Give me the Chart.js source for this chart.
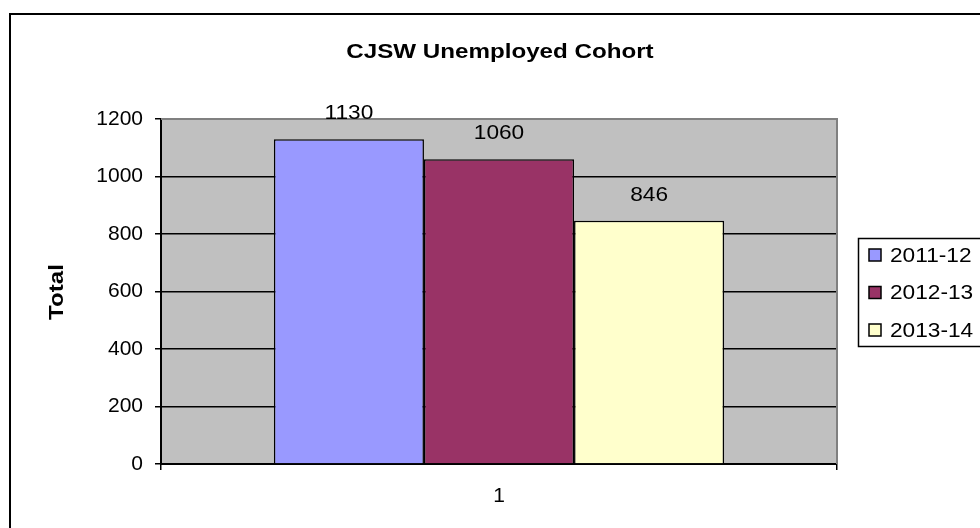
<!DOCTYPE html>
<html>
<head>
<meta charset="utf-8">
<script src="https://cdn.jsdelivr.net/npm/chart.js@4"></script>
<style>
    html, body { margin: 0; padding: 0; background: #fff; }
    #wrap { width: 980px; height: 528px; }
</style>
</head>
<body>
<div id="wrap"><canvas id="cohortChart" width="980" height="528"></canvas></div>
<script>
// chart data
const categories = ["1"];
const seriesNames = ["2011-12", "2012-13", "2013-14"];
const seriesValues = [[1130], [1060], [846]];
const seriesColours = ["#9999FF", "#993366", "#FFFFCC"];
const yTicks = [0, 200, 400, 600, 800, 1000, 1200];

const FONT = "'Liberation Sans', Arial, sans-serif";

// draw text a bit wider, like the original
function wideText(ctx, txt, x, y, sx) {
    ctx.save();
    ctx.translate(x, y);
    ctx.scale(sx, 1);
    ctx.fillText(txt, 0, 0);
    ctx.restore();
}

// frame, title, y title, legend and value labels
const decorPlugin = {
    id: "decor",
    beforeDraw(chart) {
        const ctx = chart.ctx;
        const a = chart.chartArea;
        ctx.save();
        ctx.fillStyle = "#fff";
        ctx.fillRect(0, 0, chart.width, chart.height);
        // outer border
        ctx.strokeStyle = "#000";
        ctx.lineWidth = 2;
        ctx.strokeRect(10, 14, 990, 540);
        // plot background
        ctx.fillStyle = "#C0C0C0";
        ctx.fillRect(a.left, a.top, a.right - a.left, a.bottom - a.top);
        ctx.restore();
    },
    afterDatasetsDraw(chart) {
        const ctx = chart.ctx;
        const a = chart.chartArea;
        ctx.save();
        // grey top/right border of plot
        ctx.strokeStyle = "#808080";
        ctx.lineWidth = 2;
        ctx.beginPath();
        ctx.moveTo(a.left, a.top);
        ctx.lineTo(a.right, a.top);
        ctx.lineTo(a.right, a.bottom);
        ctx.stroke();

        // title
        ctx.fillStyle = "#000";
        ctx.font = "bold 21px " + FONT;
        ctx.textAlign = "center";
        ctx.textBaseline = "middle";
        wideText(ctx, "CJSW Unemployed Cohort", 500, 52, 1.15);

        // y axis title
        ctx.save();
        ctx.translate(57, 292);
        ctx.rotate(-Math.PI / 2);
        ctx.scale(1.15, 1);
        ctx.fillText("Total", 0, 0);
        ctx.restore();

        // value labels
        ctx.font = "21px " + FONT;
        chart.data.datasets.forEach((ds, i) => {
            chart.getDatasetMeta(i).data.forEach((bar, j) => {
                wideText(ctx, String(ds.data[j]), bar.x, bar.y - 26, 1.08);
            });
        });

        // legend
        ctx.strokeStyle = "#000";
        ctx.lineWidth = 1.5;
        ctx.strokeRect(858.5, 238.5, 140, 108);
        ctx.textAlign = "left";
        chart.data.datasets.forEach((ds, i) => {
            const y = 255 + i * 37.5;
            ctx.fillStyle = ds.backgroundColor;
            ctx.fillRect(869, y - 6, 12, 12);
            ctx.strokeStyle = "#000";
            ctx.lineWidth = 1.5;
            ctx.strokeRect(869, y - 6, 12, 12);
            ctx.fillStyle = "#000";
            wideText(ctx, ds.label, 890, y + 1, 1.08);
        });
        ctx.restore();
    }
};

const datasets = seriesNames.map((name, i) => ({
    label: name,
    data: seriesValues[i],
    backgroundColor: seriesColours[i],
    borderColor: "#000",
    borderWidth: 1.5,
    categoryPercentage: 0.666,
    barPercentage: 1.0
}));

new Chart(document.getElementById("cohortChart"), {
    type: "bar",
    data: { labels: categories, datasets: datasets },
    options: {
        responsive: false,
        animation: false,
        layout: { padding: { left: 9, top: 119, right: 143, bottom: 0 } },
        plugins: {
            legend: { display: false },
            title: { display: false },
            tooltip: { enabled: false }
        },
        scales: {
            x: {
                afterFit(scale) { scale.height = 64; },
                grid: {
                    display: true,
                    offset: true,
                    drawOnChartArea: false,
                    drawTicks: true,
                    tickLength: 6,
                    color: "#000",
                    lineWidth: 1.5
                },
                border: { color: "#000", width: 2 },
                ticks: {
                    color: "#000",
                    font: { size: 21, family: FONT },
                    padding: 14
                }
            },
            y: {
                min: 0,
                max: 1200,
                afterFit(scale) { scale.width = 152; },
                afterBuildTicks(scale) { scale.ticks = yTicks.map(v => ({ value: v })); },
                grid: {
                    color: "#000",
                    lineWidth: 1.5,
                    drawTicks: true,
                    tickLength: 6
                },
                border: { color: "#000", width: 2 },
                ticks: {
                    color: "#000",
                    font: { size: 21, family: FONT },
                    padding: 12,
                    callback: v => String(v)
                }
            }
        }
    },
    plugins: [decorPlugin]
});
</script>
</body>
</html>
